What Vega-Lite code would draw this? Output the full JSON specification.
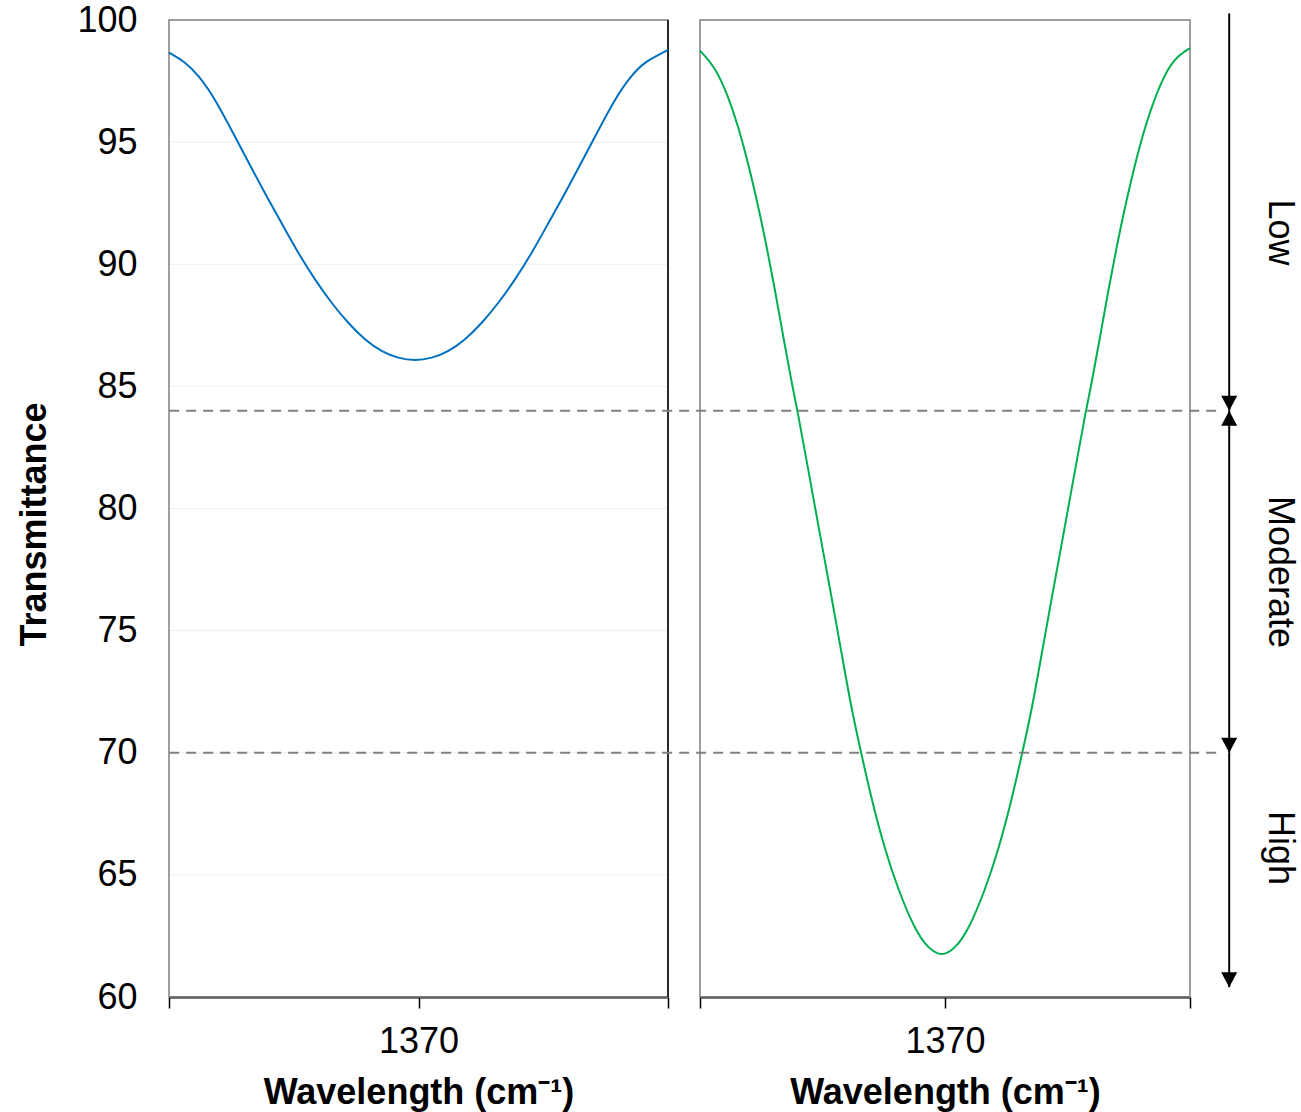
{
  "$schema": "https://vega.github.io/schema/vega-lite/v6.json",
  "width": 1132,
  "height": 977,
  "autosize": "none",
  "padding": {"left": 169, "top": 20, "right": 0, "bottom": 115},
  "background": "white",
  "config": {"view": {"stroke": null}, "font": "Liberation Sans"},
  "datasets": {
    "blue": [
      {"w": 1340.00, "T": 98.66}, {"w": 1341.92, "T": 98.29}, {"w": 1343.52, "T": 97.75}, {"w": 1345.53, "T": 96.79},
      {"w": 1348.14, "T": 95.09}, {"w": 1349.94, "T": 93.93}, {"w": 1351.54, "T": 92.90}, {"w": 1353.55, "T": 91.68},
      {"w": 1355.55, "T": 90.45}, {"w": 1357.56, "T": 89.36}, {"w": 1359.56, "T": 88.40}, {"w": 1361.56, "T": 87.58},
      {"w": 1363.57, "T": 86.90}, {"w": 1365.57, "T": 86.42}, {"w": 1367.57, "T": 86.15}, {"w": 1369.58, "T": 86.05},
      {"w": 1371.59, "T": 86.15}, {"w": 1373.58, "T": 86.42}, {"w": 1375.59, "T": 86.90}, {"w": 1377.60, "T": 87.58},
      {"w": 1379.59, "T": 88.40}, {"w": 1381.60, "T": 89.36}, {"w": 1383.61, "T": 90.45}, {"w": 1385.61, "T": 91.68},
      {"w": 1387.61, "T": 92.90}, {"w": 1389.21, "T": 93.93}, {"w": 1391.02, "T": 95.09}, {"w": 1393.63, "T": 96.79},
      {"w": 1395.63, "T": 97.75}, {"w": 1397.23, "T": 98.29}, {"w": 1399.16, "T": 98.62}, {"w": 1400.00, "T": 98.77}
    ],
    "green": [
      {"w": 1340.00, "T": 98.74}, {"w": 1341.84, "T": 98.09}, {"w": 1343.47, "T": 96.86}, {"w": 1344.69, "T": 95.63},
      {"w": 1345.91, "T": 94.13}, {"w": 1347.14, "T": 92.36}, {"w": 1348.17, "T": 90.72}, {"w": 1349.18, "T": 88.95},
      {"w": 1350.20, "T": 87.03}, {"w": 1351.23, "T": 85.13}, {"w": 1351.91, "T": 84.07}, {"w": 1353.26, "T": 81.58},
      {"w": 1354.90, "T": 78.55}, {"w": 1356.13, "T": 76.34}, {"w": 1357.35, "T": 74.04}, {"w": 1358.58, "T": 71.75},
      {"w": 1359.71, "T": 70.03}, {"w": 1361.02, "T": 68.07}, {"w": 1362.65, "T": 66.02}, {"w": 1364.28, "T": 64.38},
      {"w": 1366.33, "T": 62.74}, {"w": 1367.96, "T": 61.98}, {"w": 1369.60, "T": 61.65}, {"w": 1371.24, "T": 61.98},
      {"w": 1372.87, "T": 62.74}, {"w": 1374.91, "T": 64.38}, {"w": 1376.54, "T": 66.02}, {"w": 1378.17, "T": 68.07},
      {"w": 1379.48, "T": 70.03}, {"w": 1380.62, "T": 71.75}, {"w": 1381.84, "T": 74.04}, {"w": 1383.07, "T": 76.34},
      {"w": 1384.29, "T": 78.55}, {"w": 1385.93, "T": 81.58}, {"w": 1387.28, "T": 84.07}, {"w": 1387.96, "T": 85.13},
      {"w": 1388.99, "T": 87.03}, {"w": 1390.01, "T": 88.95}, {"w": 1391.02, "T": 90.72}, {"w": 1392.05, "T": 92.36},
      {"w": 1393.28, "T": 94.13}, {"w": 1394.50, "T": 95.63}, {"w": 1395.73, "T": 96.86}, {"w": 1397.36, "T": 98.09},
      {"w": 1398.78, "T": 98.60}, {"w": 1400.00, "T": 98.85}
    ],
    "grid": [{"T": 65}, {"T": 70}, {"T": 75}, {"T": 80}, {"T": 85}, {"T": 90}, {"T": 95}],
    "thresholds": [{"T": 84}, {"T": 70}],
    "arrows": [{"from": 100.27, "to": 84}, {"from": 84, "to": 70}, {"from": 70, "to": 60.4}],
    "heads": [{"T": 84, "dir": "down"}, {"T": 84, "dir": "up"}, {"T": 70, "dir": "down"}, {"T": 60.4, "dir": "down"}],
    "labels": [{"T": 91.3, "label": "Low"}, {"T": 77.4, "label": "Moderate"}, {"T": 66.1, "label": "High"}],
    "one": [{}]
  },
  "layer": [
    {
      "layer": [
        {
          "data": {"name": "grid"},
          "mark": {"type": "rule", "color": "#eeeeee", "strokeWidth": 1},
          "encoding": {
            "x": {"datum": 1340, "type": "quantitative",
              "scale": {"domain": [1340, 1400], "range": [0, 499], "nice": false, "zero": false},
              "axis": {"orient": "bottom", "values": [1340, 1370, 1400], "labelExpr": "datum.value == 1370 ? '1370' : ''",
                "title": "Wavelength (cm⁻¹)", "grid": false, "domainColor": "black", "domainWidth": 2,
                "tickColor": "black", "tickWidth": 1.5, "tickSize": 11, "labelFontSize": 36, "labelPadding": 16,
                "labelColor": "black", "labelOverlap": false, "labelFlush": false,
                "titleFontSize": 36, "titleFontWeight": "bold", "titleColor": "black", "titlePadding": 16}},
            "x2": {"datum": 1400},
            "y": {"field": "T", "type": "quantitative",
              "scale": {"domain": [60, 100], "nice": false, "zero": false},
              "axis": {"values": [60, 65, 70, 75, 80, 85, 90, 95, 100], "format": "d", "ticks": false, "tickSize": 0,
                "domain": false, "grid": false, "labelFontSize": 36, "labelPadding": 32, "labelColor": "black",
                "title": "Transmittance", "titleFontSize": 36, "titleFontWeight": "bold", "titleColor": "black",
                "titlePadding": 23, "titleY": 504}}
          }
        },
        {
          "data": {"name": "one"},
          "mark": {"type": "rect", "fillOpacity": 0, "stroke": "#7f7f7f", "strokeWidth": 1.5},
          "encoding": {
            "x": {"datum": 1340, "type": "quantitative"},
            "x2": {"datum": 1400},
            "y": {"datum": 60, "type": "quantitative"},
            "y2": {"datum": 100}
          }
        },
        {
          "data": {"name": "one"},
          "mark": {"type": "rule", "color": "black", "strokeWidth": 1.5},
          "encoding": {
            "x": {"datum": 1400, "type": "quantitative"},
            "y": {"datum": 60, "type": "quantitative"},
            "y2": {"datum": 100}
          }
        },
        {
          "data": {"name": "blue"},
          "mark": {"type": "line", "color": "#0070C0", "strokeWidth": 2, "interpolate": "basis"},
          "encoding": {
            "x": {"field": "w", "type": "quantitative"},
            "y": {"field": "T", "type": "quantitative"}
          }
        }
      ]
    },
    {
      "layer": [
        {
          "data": {"name": "one"},
          "mark": {"type": "rect", "fillOpacity": 0, "stroke": "#7f7f7f", "strokeWidth": 1.5},
          "encoding": {
            "x": {"datum": 1340, "type": "quantitative",
              "scale": {"domain": [1340, 1400], "range": [531, 1021], "nice": false, "zero": false},
              "axis": {"orient": "bottom", "values": [1340, 1370, 1400], "labelExpr": "datum.value == 1370 ? '1370' : ''",
                "title": "Wavelength (cm⁻¹)", "grid": false, "domainColor": "black", "domainWidth": 2,
                "tickColor": "black", "tickWidth": 1.5, "tickSize": 11, "labelFontSize": 36, "labelPadding": 16,
                "labelColor": "black", "labelOverlap": false, "labelFlush": false,
                "titleFontSize": 36, "titleFontWeight": "bold", "titleColor": "black", "titlePadding": 16}},
            "x2": {"datum": 1400},
            "y": {"datum": 60, "type": "quantitative"},
            "y2": {"datum": 100}
          }
        },
        {
          "data": {"name": "green"},
          "mark": {"type": "line", "color": "#00B050", "strokeWidth": 2, "interpolate": "basis"},
          "encoding": {
            "x": {"field": "w", "type": "quantitative"},
            "y": {"field": "T", "type": "quantitative"}
          }
        },
        {
          "data": {"name": "thresholds"},
          "mark": {"type": "rule", "color": "#808080", "strokeWidth": 2, "strokeDash": [10, 7]},
          "encoding": {
            "x": {"datum": 1275, "type": "quantitative"},
            "x2": {"datum": 1403.9},
            "y": {"field": "T", "type": "quantitative"}
          }
        },
        {
          "data": {"name": "arrows"},
          "mark": {"type": "rule", "color": "black", "strokeWidth": 2},
          "encoding": {
            "x": {"datum": 1404.8, "type": "quantitative"},
            "y": {"field": "from", "type": "quantitative"},
            "y2": {"field": "to"}
          }
        },
        {
          "data": {"name": "heads"},
          "mark": {"type": "point", "filled": true, "color": "black", "opacity": 1, "size": 256},
          "encoding": {
            "x": {"datum": 1404.8, "type": "quantitative"},
            "y": {"field": "T", "type": "quantitative"},
            "shape": {"field": "dir", "type": "nominal",
              "scale": {"domain": ["down", "up"], "range": ["M-1,-1.875L1,-1.875L0,0Z", "M-1,1.875L1,1.875L0,0Z"]},
              "legend": null}
          }
        },
        {
          "data": {"name": "labels"},
          "mark": {"type": "text", "angle": 90, "fontSize": 36, "align": "center", "baseline": "middle", "color": "black"},
          "encoding": {
            "x": {"datum": 1411.0, "type": "quantitative"},
            "y": {"field": "T", "type": "quantitative"},
            "text": {"field": "label", "type": "nominal"}
          }
        }
      ]
    }
  ],
  "resolve": {"scale": {"x": "independent"}, "axis": {"x": "independent"}}
}
